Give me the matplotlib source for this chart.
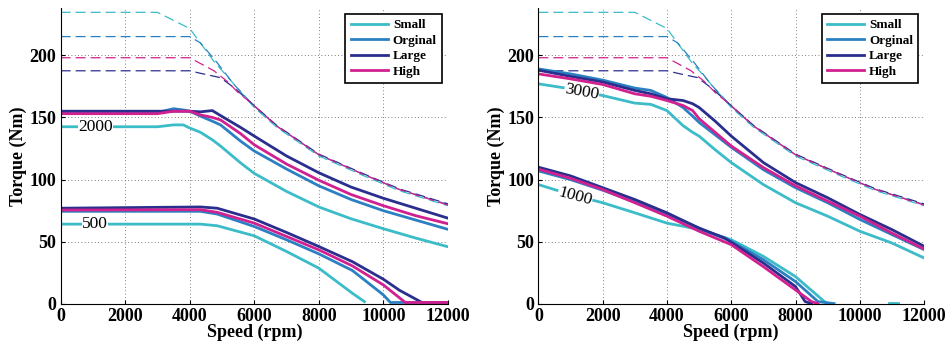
import matplotlib
matplotlib.use('Agg')
import matplotlib.pyplot as plt

plt.rcParams['font.family'] = ['Liberation Serif', 'DejaVu Serif']

colors = {
    'Small':   '#3bbcc8',
    'Orginal': '#2b80c2',
    'Large':   '#2a2f8e',
    'High':    '#d1208f',
}
names = ['Small', 'Orginal', 'Large', 'High']

# dashed maximum torque envelopes (same on both panels)
env_speed = {
    'Small':   [0, 3000, 4000, 4750, 5160, 6000, 6700, 8000, 9400, 10500, 12000],
    'Orginal': [0, 4000, 4330, 4850, 5370, 6000, 6700, 8000, 9400, 10500, 12000],
    'Large':   [0, 4000, 4330, 4950, 5370, 6000, 6700, 8000, 9400, 10500, 12000],
    'High':    [0, 4000, 4750, 5160, 5500, 6000, 6700, 8000, 9400, 10500, 12000],
}
env_torque = {
    'Small':   [234.5, 234.5, 221.5, 195, 183, 158, 142, 119, 103, 91, 79],
    'Orginal': [215, 215, 210, 194, 176.5, 159, 143, 120, 104, 92, 80],
    'Large':   [187.5, 187.5, 185.5, 182, 174, 159.5, 143.5, 120.5, 104.5, 92.5, 80.5],
    'High':    [198, 198, 187.5, 179, 170, 159.5, 143, 120, 104, 92, 79.5],
}

# left panel: 2000 and 500 curves
spd_2000 = [0, 3000, 3500, 3800, 4000, 4335, 4700, 4954, 5573, 6000, 7000, 8000, 9000, 10000, 11000, 12000]
trq_2000 = {
    'Small':   [142.5, 142.5, 144, 144, 141.5, 138, 132, 127, 113.5, 105, 90.5, 78, 68.5, 60.5, 53, 46],
    'Orginal': [154, 154, 157, 156, 155, 151, 147, 144, 131, 123, 108.5, 95, 84, 75, 67.5, 60],
    'Large':   [155, 155, 155, 155, 155, 154.5, 155.5, 151.5, 142, 135, 119, 105.5, 94, 85, 77, 69],
    'High':    [153, 153, 155, 155, 155, 152, 150, 148, 137, 128, 112.5, 99.5, 88, 79, 71, 64.5],
}
spd_500 = {
    'Small':   [0, 4335, 4850, 6000, 7000, 8000, 9041, 9413],
    'Orginal': [0, 4335, 4850, 6000, 7000, 8000, 9041, 10000, 10217, 12000],
    'Large':   [0, 4335, 4850, 6000, 7000, 8000, 9041, 10000, 10500, 11195, 12000],
    'High':    [0, 4335, 4850, 6000, 7000, 8000, 9041, 10000, 10680, 12000],
}
trq_500 = {
    'Small':   [64.2, 64.2, 62.9, 54.8, 42.2, 28.8, 8.6, 1.9],
    'Orginal': [74.5, 74.5, 72.3, 62.3, 51.6, 40.3, 26.9, 7.3, 1.2, 1.2],
    'Large':   [77, 78, 77, 68.3, 57.5, 46.2, 34, 19.9, 11, 1.2, 1.2],
    'High':    [75.5, 75.8, 73.7, 65, 54.3, 43.5, 30.6, 15.3, 1.2, 1.2],
}

# right panel: 3000 and 1000 curves
spd_3000 = [0, 1000, 2000, 3000, 3500, 4000, 4500, 4800, 5000, 5500, 6000, 7000, 8000, 9000, 10000, 11000, 12000]
trq_3000 = {
    'Small':   [177, 173, 167.6, 161.5, 160.5, 155.5, 143.4, 138, 135, 124, 113.7, 96, 81.4, 70.6, 58.5, 49, 37],
    'Orginal': [189, 185, 180, 173.6, 171.7, 166, 158, 151, 146, 136, 126, 108, 93.5, 81.4, 68, 55.8, 43.7],
    'Large':   [188, 183, 178.5, 171.7, 169, 165, 163.6, 161, 158, 147, 135, 113.7, 97.6, 85.4, 72, 59.8, 46.4],
    'High':    [185, 181, 176.5, 169, 167, 163.6, 159.6, 155.5, 149, 138, 127, 109.7, 95, 82.7, 70.6, 57, 44.2],
}
spd_1000 = {
    'Small':   [0, 1000, 2000, 3000, 4000, 5000, 6000, 7000, 8000, 8900, 9000],
    'Orginal': [0, 1000, 2000, 3000, 4000, 5000, 6000, 7000, 8000, 8700, 9200],
    'Large':   [0, 1000, 2000, 3000, 4000, 5000, 5800, 6000, 7000, 8000, 8300, 8500],
    'High':    [0, 1000, 2000, 3000, 4000, 5000, 6000, 7000, 8000, 8500, 8700],
}
trq_1000 = {
    'Small':   [96, 88, 81.4, 73.3, 65, 60, 51.7, 38.3, 22, 1.9, 0.3],
    'Orginal': [107, 100, 91.5, 82, 72, 61, 50.4, 35.6, 18, 1.9, 0.3],
    'Large':   [110, 103, 93.5, 84, 73.3, 61, 53, 49.6, 32.9, 14, 1.9, 0.3],
    'High':    [108.4, 101, 92, 81.4, 70.6, 58.5, 47.7, 30, 11.3, 1.9, 0.3],
}
stray_spd = [10900, 11200]
stray_trq = [0.5, 0.5]

fig = plt.figure(figsize=(9.47, 3.47), dpi=100)
ax1 = fig.add_axes([0.064, 0.124, 0.409, 0.853])
ax2 = fig.add_axes([0.5685, 0.124, 0.4073, 0.853])

solid_lw = 2.0
for ax in (ax1, ax2):
    for n in names:
        ax.plot(env_speed[n], env_torque[n], '--', color=colors[n], lw=0.9, dashes=(8, 4))

for n in names:
    ax1.plot(spd_2000, trq_2000[n], '-', color=colors[n], lw=solid_lw, label=n)
    ax1.plot(spd_500[n], trq_500[n], '-', color=colors[n], lw=solid_lw)
    ax2.plot(spd_3000, trq_3000[n], '-', color=colors[n], lw=solid_lw, label=n)
    ax2.plot(spd_1000[n], trq_1000[n], '-', color=colors[n], lw=solid_lw)
ax2.plot(stray_spd, stray_trq, '-', color=colors['Small'], lw=solid_lw)

lbl_kw = dict(fontsize=12.5, ha='center', va='center', zorder=5,
              bbox=dict(facecolor='white', edgecolor='none', pad=0.2))
ax1.text(1085, 142.5, '2000', **lbl_kw)
ax1.text(1070, 64.2, '500', **lbl_kw)
ax2.text(1345, 170, '3000', rotation=-10, **lbl_kw)
ax2.text(1143, 86.5, '1000', rotation=-15, **lbl_kw)

for ax in (ax1, ax2):
    ax.set_xlim(0, 12000)
    ax.set_ylim(0, 238)
    ax.set_xticks(range(0, 12001, 2000))
    ax.set_yticks([0, 50, 100, 150, 200])
    ax.grid(True, linestyle=(0, (1, 3)), color='#555555', lw=0.6)
    ax.spines['top'].set_visible(False)
    ax.spines['right'].set_visible(False)
    ax.tick_params(direction='in', length=3, labelsize=13, pad=3)
    for lab in ax.get_xticklabels() + ax.get_yticklabels():
        lab.set_fontweight('bold')
    ax.set_xlabel('Speed (rpm)', fontsize=13, fontweight='bold', labelpad=-1)
    ax.set_ylabel('Torque (Nm)', fontsize=13, fontweight='bold', labelpad=2)
    leg = ax.legend(loc='upper right', bbox_to_anchor=(0.985, 0.98), fancybox=False,
                    framealpha=1, edgecolor='black', handlelength=2.8,
                    prop={'weight': 'bold', 'size': 9.5}, borderpad=0.4,
                    labelspacing=0.25, handletextpad=0.4, borderaxespad=0)
    leg.get_frame().set_linewidth(1.2)

plt.savefig('out.png', dpi=100)
